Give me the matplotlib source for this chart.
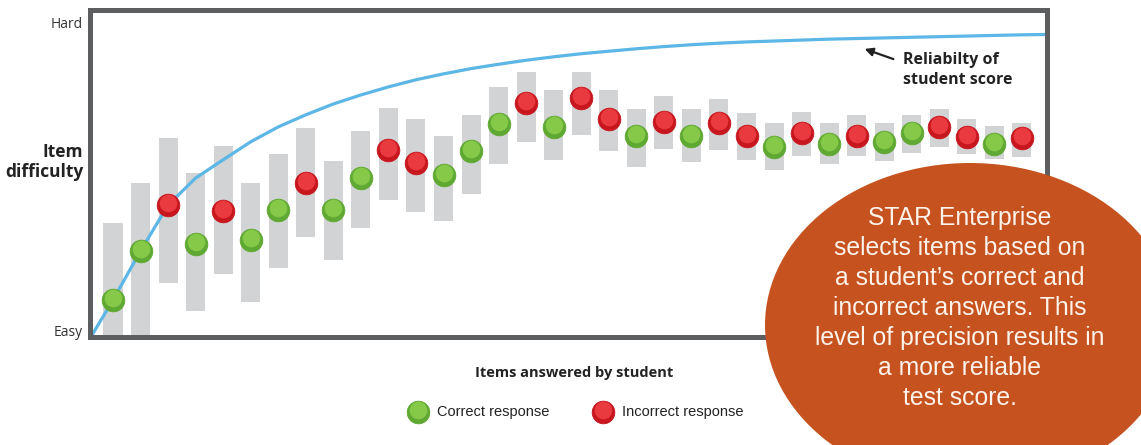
import numpy as np
import matplotlib
matplotlib.use('Agg')
import matplotlib.pyplot as plt
from matplotlib.patches import Ellipse
import matplotlib.transforms as mtransforms

# items answered, difficulty of each item (0 = easy, 100 = hard)
items = np.arange(1, 35)
difficulty = [11.3, 27.1, 41.9, 29.4, 40.0, 30.6, 40.3, 49.0, 40.3, 50.6,
              59.7, 55.5, 51.6, 59.4, 68.1, 74.8, 67.1, 76.5, 69.7, 64.2,
              68.7, 64.2, 68.4, 64.2, 60.6, 65.2, 61.6, 64.2, 62.3, 65.2,
              67.1, 63.9, 61.6, 63.5]
correct = [1, 1, 0, 1, 0, 1, 1, 0, 1, 1,
           0, 0, 1, 1, 1, 0, 1, 0, 0, 1,
           0, 1, 0, 0, 1, 0, 1, 0, 1, 1,
           0, 0, 1, 0]
band_top = [36.1, 49.0, 63.5, 52.3, 61.0, 49.0, 58.4, 66.8, 56.1, 65.8,
            73.2, 69.7, 64.2, 71.0, 80.0, 84.8, 79.0, 84.8, 79.0, 72.9,
            77.1, 72.9, 76.1, 71.6, 68.4, 71.9, 68.4, 71.0, 68.4, 71.0,
            72.9, 69.7, 67.4, 68.4]
band_bottom = [0.0, 0.0, 16.8, 7.7, 19.7, 10.6, 21.6, 31.6, 24.2, 34.5,
               43.5, 39.7, 36.8, 45.5, 55.2, 62.3, 56.5, 64.5, 59.4, 54.2,
               60.0, 55.8, 59.7, 56.5, 53.2, 57.7, 55.2, 57.7, 56.1, 58.7,
               60.6, 58.4, 56.8, 57.4]

# reliability curve
rel_x = [0.24, 1, 2, 3, 4, 5, 6, 7, 8, 9, 10, 11, 12, 13, 14, 15, 16, 17,
         18, 19, 20, 21, 22, 23, 24, 25, 26, 27, 28, 29, 30, 31, 32, 33, 34, 34.9]
rel_y = [0.0, 11.3, 27.1, 41.9, 50.6, 56.5, 62.3, 67.1, 71.0, 74.5, 77.4,
         80.0, 82.3, 84.2, 85.9, 87.3, 88.6, 89.7, 90.7, 91.5, 92.3, 93.0,
         93.6, 94.1, 94.5, 94.8, 95.1, 95.4, 95.6, 95.8, 96.0, 96.2, 96.4,
         96.6, 96.8, 96.9]

W, H = 1141, 445
fig = plt.figure(figsize=(W / 100, H / 100), dpi=100)
fig.patch.set_facecolor('white')

def fx(p):
    return p / W

def fy(p):
    return 1 - p / H

ax = fig.add_axes([fx(90), fy(337), fx(1047) - fx(90), fy(10) - fy(337)])
ax.set_xlim(0.165, 34.91)
ax.set_ylim(-0.65, 104.8)
ax.set_xticks([])
ax.set_yticks([])
for s in ax.spines.values():
    s.set_linewidth(3.6)
    s.set_color('#5d5e60')

green_dark, green_light = '#5fa832', '#86c848'
red_dark, red_light = '#c8161e', '#e93a3f'

bh = np.array(band_top) - np.array(band_bottom)
ax.bar(items, bh, bottom=band_bottom, width=0.69, color='#d1d3d4', zorder=1)

ax.plot(rel_x, rel_y, color='#5cb6e6', lw=2.3, solid_joinstyle='round',
        solid_capstyle='round', zorder=2, clip_on=False)

def gloss(axis, xs, ys, dark, light, tr=None, ms=16.3):
    kw = {}
    if tr is not None:
        kw = dict(transform=tr, clip_on=False)
    axis.plot(xs, ys, 'o', ms=ms, color=dark, mec=dark, mew=0.6, zorder=3,
              linestyle='none', **kw)
    base = tr if tr is not None else axis.transData
    up = mtransforms.offset_copy(base, fig=fig, x=0, y=1.7, units='dots')
    axis.plot(xs, ys, 'o', ms=ms * 0.78, color=light, mew=0, zorder=4,
              linestyle='none', transform=up, clip_on=(tr is None))

d = np.array(difficulty)
c = np.array(correct) == 1
gloss(ax, items[c], d[c], green_dark, green_light)
gloss(ax, items[~c], d[~c], red_dark, red_light)

# axis labels
fig.text(fx(83), fy(25), 'Hard', ha='right', va='center', fontsize=10,
         family='Open Sans', color='#333333')
fig.text(fx(83), fy(332), 'Easy', ha='right', va='center', fontsize=10,
         family='Open Sans', color='#333333')
fig.text(fx(83), fy(162), 'Item\ndifficulty', ha='right', va='center',
         fontsize=12.5, family='Open Sans', weight='bold', color='#222222',
         linespacing=1.15)
fig.text(fx(574), fy(373), 'Items answered by student', ha='center',
         va='center', fontsize=10.5, family='Open Sans', weight='bold',
         color='#222222')

# reliability note
fig.text(fx(903), fy(70), 'Reliabilty of\nstudent score', ha='left',
         va='center', fontsize=11.5, family='Open Sans', weight='bold',
         color='#222222', linespacing=1.3)
ax.annotate('', xy=(fx(862), fy(48)), xytext=(fx(896), fy(60)),
            xycoords='figure fraction', textcoords='figure fraction',
            arrowprops=dict(arrowstyle='-|>', color='#222222', lw=1.6,
                            mutation_scale=12))

# legend
gloss(ax, [fx(418)], [fy(412)], green_dark, green_light, tr=fig.transFigure)
gloss(ax, [fx(603)], [fy(412)], red_dark, red_light, tr=fig.transFigure)
fig.text(fx(437), fy(412), 'Correct response', ha='left', va='center',
         fontsize=10.5, family='Liberation Sans', color='#222222')
fig.text(fx(622), fy(412), 'Incorrect response', ha='left', va='center',
         fontsize=10.5, family='Liberation Sans', color='#222222')

# orange callout
ell = Ellipse((fx(970), fy(325)), 410 / W, 324 / H, transform=fig.transFigure,
              facecolor='#c5521f', edgecolor='none', zorder=5)
fig.add_artist(ell)
callout = ('STAR Enterprise\nselects items based on\na student\u2019s correct and\n'
           'incorrect answers. This\nlevel of precision results in\n'
           'a more reliable\ntest score.')
fig.text(fx(960), fy(308), callout, ha='center', va='center', fontsize=17.8,
         family='Liberation Sans', color='#fdf3ea', linespacing=1.32, zorder=6)

fig.savefig('out.png', dpi=100)
